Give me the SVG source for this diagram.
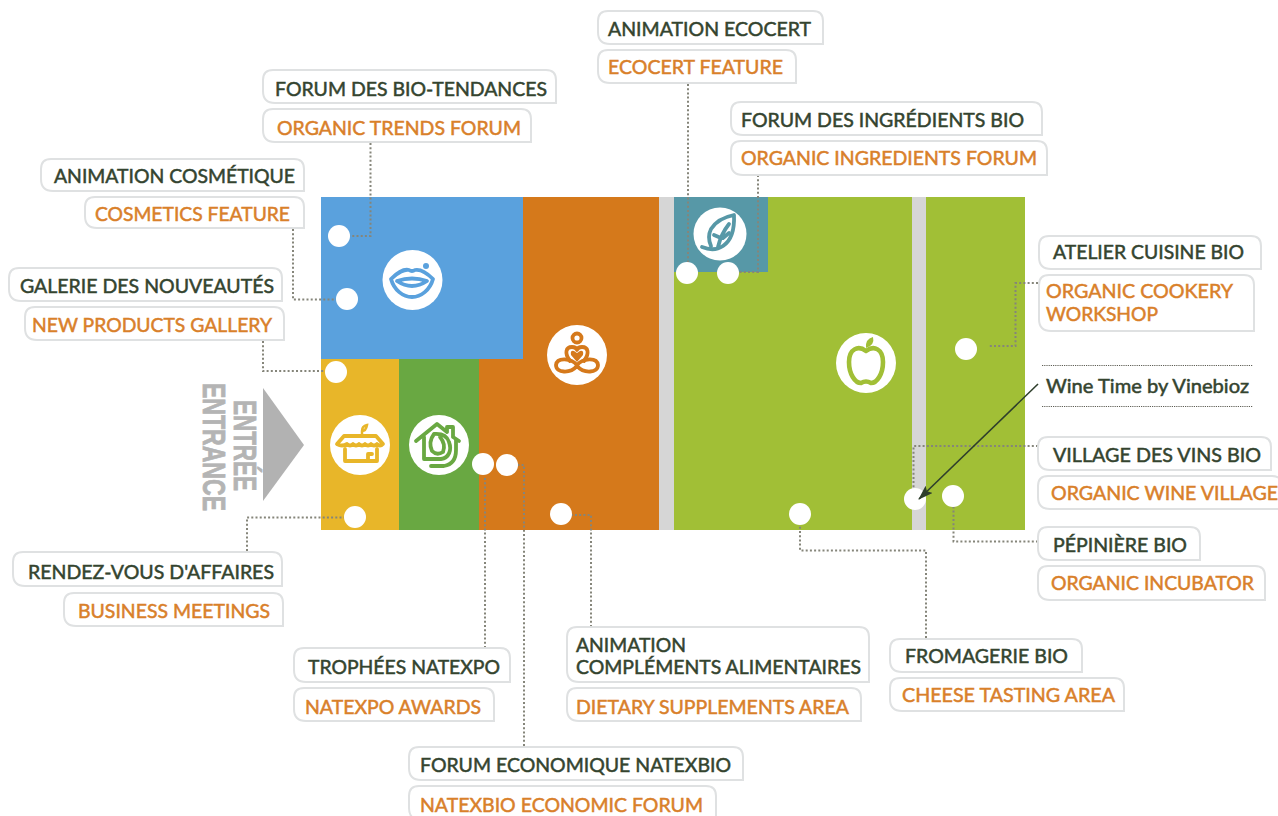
<svg xmlns="http://www.w3.org/2000/svg" width="1278" height="816" viewBox="0 0 1278 816">
<style>
text{font-family:Lato,"Open Sans","Liberation Sans",sans-serif;font-size:19.5px;font-weight:400;stroke-width:.5px}
.d{fill:#34442f;stroke:#34442f;transform:translateY(.5px)}
.o{fill:#d9802a;stroke:#d9802a;transform:translateY(.5px)}
.b{fill:#fff;stroke:#dfe1e2;stroke-width:2}
.c{fill:none;stroke:#85857a;stroke-width:2;stroke-dasharray:2 2.2}
.f{fill:none;stroke:#5f5f56;stroke-width:1.200;stroke-dasharray:1.200 1}
.w{fill:#fff}
.i{fill:none;stroke-width:3.800;stroke-linecap:round;stroke-linejoin:round}
.e{font-family:"Liberation Sans",sans-serif;font-size:31px;font-weight:700;fill:#b4b4b4;stroke:#b4b4b4;stroke-width:.8px}
</style>
<defs>
<marker id="ah" markerWidth="16" markerHeight="12" refX="14" refY="5" orient="auto" markerUnits="userSpaceOnUse"><path d="M0,0L15,5L0,10L3,5Z" fill="#2f3f2c"/></marker>
</defs>
<rect width="1278" height="816" fill="#fff"/>
<g id="plan">
<rect x="674" y="197" width="351" height="333" fill="#a1bf36"/>
<rect x="659" y="197" width="15" height="333" fill="#d6d6d6"/>
<rect x="912" y="197" width="14" height="333" fill="#d6d6d6"/>
<rect x="674" y="197" width="94" height="75" fill="#5798a7"/>
<path d="M523,197H659V530H479V359H523Z" fill="#d5791b"/>
<rect x="321" y="197" width="202" height="162" fill="#5aa1dd"/>
<rect x="321" y="359" width="78" height="171" fill="#e8b629"/>
<rect x="399" y="359" width="80" height="171" fill="#69a842"/>
</g>
<g id="connectors">
<path class="c" d="M370.500,143V236H350"/>
<path class="c" d="M293,229V299.500H336"/>
<path class="c" d="M263,341V371H325"/>
<path class="c" d="M247,551V517.500H344"/>
<path class="c" d="M485,648V476"/>
<path class="c" d="M524,746V465H518"/>
<path class="c" d="M591,627V515H572"/>
<path class="c" d="M688,84V262"/>
<path class="c" d="M758,175V272H739"/>
<path class="c" d="M1038,283H1015.500V346H989"/>
<path class="c" d="M1038,446H913.500V488"/>
<path class="c" d="M1038,541.500H953.500V507"/>
<path class="c" d="M926,638V550.500H800V525"/>
<path class="f" d="M1042,365.500H1253"/>
<path class="f" d="M1042,406.500H1253"/>
</g>
<g id="dots">
<circle class="w" cx="339" cy="236" r="11"/>
<circle class="w" cx="347" cy="299" r="11"/>
<circle class="w" cx="336" cy="372" r="11"/>
<circle class="w" cx="355" cy="517" r="11"/>
<circle class="w" cx="483" cy="464" r="11"/>
<circle class="w" cx="507" cy="465" r="11"/>
<circle class="w" cx="561" cy="514" r="11"/>
<circle class="w" cx="687" cy="273" r="11"/>
<circle class="w" cx="728" cy="273" r="11"/>
<circle class="w" cx="966" cy="349" r="11"/>
<circle class="w" cx="800" cy="514" r="11"/>
<circle class="w" cx="915" cy="499" r="11"/>
<circle class="w" cx="953" cy="496" r="11"/>
</g>
<g id="arrow">
<path d="M1038,384L919,499" fill="none" stroke="#2f3f2c" stroke-width="1.600" marker-end="url(#ah)"/>
</g>
<g id="entrance">
<path d="M263,388L304,445L263,501Z" fill="#b2b2b2"/>
<text class="e" transform="translate(234,400) rotate(90)" textLength="91" lengthAdjust="spacingAndGlyphs">ENTRÉE</text>
<text class="e" transform="translate(203,383) rotate(90)" textLength="128" lengthAdjust="spacingAndGlyphs">ENTRANCE</text>
</g>
<g id="icon-lips">
<circle class="w" cx="412.500" cy="280" r="30"/>
<circle cx="426" cy="266" r="3" fill="#5aa1dd"/>
<path class="i" stroke="#5aa1dd" d="M391,279C398,272 405,269 409,270Q412,272 415,270C420,269 427,273 433,279C430,290 421,297 412,297C403,297 394,290 391,279Z"/>
<path class="i" stroke="#5aa1dd" d="M397,281Q412,276 427,281Q412,291 397,281Z"/>
</g>
<g id="icon-yoga">
<circle class="w" cx="577" cy="355" r="30"/>
<circle class="i" stroke="#d5791b" cx="577" cy="338" r="4.500"/>
<path class="i" stroke="#d5791b" stroke-width="4.500" d="M577,365C571,358 557,357 556,365C556,373 570,374 577,366C584,374 598,373 598,365C597,357 583,358 577,365Z"/>
<path class="i" stroke="#d5791b" d="M570,361C564,353 566,347 572,347Q576,347 577,350Q578,347 582,347C588,347 590,353 584,361"/>
<path d="M577,362L571,355Q570,350 574,351L577,353L580,351Q584,350 583,355Z" fill="#d5791b"/>
</g>
<g id="icon-leaf">
<circle class="w" cx="720" cy="234" r="26.500"/>
<path class="i" stroke="#5798a7" d="M702,247Q714,252 723,246Q735,238 734,215Q718,218 711,229Q707,237 711,246"/>
<path class="i" stroke="#5798a7" d="M718,247Q721,234 729,224M714,235L721,238M729,233L723,238"/>
</g>
<g id="icon-apple">
<circle class="w" cx="866" cy="363" r="30"/>
<path class="i" stroke="#a1bf36" style="stroke-width:4.600" d="M866,351C858,345 849,349 849,362C849,374 855,383 861,383Q866,380 871,383C877,383 883,374 883,362C883,349 874,345 866,351Z"/>
<path d="M866,348Q865,339 873,337Q875,345 866,348Z" fill="#a1bf36"/>
</g>
<g id="icon-box">
<circle class="w" cx="360" cy="445" r="30"/>
<path class="i" stroke="#e8b629" d="M344,436H376L383,444Q380,447 377,444Q374,447 371,444Q368,447 365,444Q362,447 359,444Q356,447 353,444Q350,447 347,444Q342,447 337,444Z"/>
<path class="i" stroke="#e8b629" d="M345,449V461H377V449M368,461V454H372"/>
<path d="M362,436V431Q362,426 367,425Q366,431 362,431" fill="none" stroke="#e8b629" stroke-width="2.500"/>
</g>
<g id="icon-house">
<circle class="w" cx="439" cy="445" r="30"/>
<path class="i" stroke="#69a842" d="M416,441L437,424L447,432V427H453V437L459,441"/>
<path class="i" stroke="#69a842" d="M424,437V459H441C449,458 452,450 449,442Q446,433 434,434Q428,442 432,451Q437,456 443,452Q446,444 440,437"/>
<path class="i" stroke="#69a842" d="M431,466H444Q456,464 456,450V440"/>
</g>
<g id="label-bio-tendances">
<path class="b" d="M273,70H546Q556,70 556,80V103H275Q263,103 263,91V80Q263,70 273,70Z"/>
<text class="d" x="275" y="95" textLength="272" lengthAdjust="spacingAndGlyphs">FORUM DES BIO-TENDANCES</text>
<path class="b" d="M273,109H521Q531,109 531,119V142H275Q263,142 263,130V119Q263,109 273,109Z"/>
<text class="o" x="277" y="134" textLength="244" lengthAdjust="spacingAndGlyphs">ORGANIC TRENDS FORUM</text>
</g>
<g id="label-cosmetique">
<path class="b" d="M51,159H294Q304,159 304,169V191H53Q41,191 41,179V169Q41,159 51,159Z"/>
<text class="d" x="54" y="182" textLength="241" lengthAdjust="spacingAndGlyphs">ANIMATION COSMÉTIQUE</text>
<path class="b" d="M95,197H294Q304,197 304,207V228H97Q85,228 85,216V207Q85,197 95,197Z"/>
<text class="o" x="95" y="220" textLength="195" lengthAdjust="spacingAndGlyphs">COSMETICS FEATURE</text>
</g>
<g id="label-nouveautes">
<path class="b" d="M19,268H272Q282,268 282,278V301H21Q9,301 9,289V278Q9,268 19,268Z"/>
<text class="d" x="20" y="292" textLength="254" lengthAdjust="spacingAndGlyphs">GALERIE DES NOUVEAUTÉS</text>
<path class="b" d="M35,307H274Q284,307 284,317V340H37Q25,340 25,328V317Q25,307 35,307Z"/>
<text class="o" x="32" y="331" textLength="240" lengthAdjust="spacingAndGlyphs">NEW PRODUCTS GALLERY</text>
</g>
<g id="label-ecocert">
<path class="b" d="M608,11H813Q823,11 823,21V44H610Q598,44 598,32V21Q598,11 608,11Z"/>
<text class="d" x="608" y="35" textLength="203" lengthAdjust="spacingAndGlyphs">ANIMATION ECOCERT</text>
<path class="b" d="M608,50H786Q796,50 796,60V83H610Q598,83 598,71V60Q598,50 608,50Z"/>
<text class="o" x="608" y="73" textLength="175" lengthAdjust="spacingAndGlyphs">ECOCERT FEATURE</text>
</g>
<g id="label-ingredients">
<path class="b" d="M741,102H1032Q1042,102 1042,112V135H743Q731,135 731,123V112Q731,102 741,102Z"/>
<text class="d" x="741" y="126" textLength="283" lengthAdjust="spacingAndGlyphs">FORUM DES INGRÉDIENTS BIO</text>
<path class="b" d="M741,141H1037Q1047,141 1047,151V175H743Q731,175 731,163V151Q731,141 741,141Z"/>
<text class="o" x="741" y="164" textLength="296" lengthAdjust="spacingAndGlyphs">ORGANIC INGREDIENTS FORUM</text>
</g>
<g id="label-cuisine">
<path class="b" d="M1049,236H1251Q1261,236 1261,246V269H1051Q1039,269 1039,257V246Q1039,236 1049,236Z"/>
<text class="d" x="1053" y="258" textLength="191" lengthAdjust="spacingAndGlyphs">ATELIER CUISINE BIO</text>
<path class="b" d="M1049,275H1244Q1254,275 1254,285V331H1051Q1039,331 1039,319V285Q1039,275 1049,275Z"/>
<text class="o" x="1046" y="297" textLength="187" lengthAdjust="spacingAndGlyphs">ORGANIC COOKERY</text>
<text class="o" x="1046" y="320" textLength="112" lengthAdjust="spacingAndGlyphs">WORKSHOP</text>
</g>
<g id="label-wine-time">
<text class="d" x="1046" y="392" textLength="203" lengthAdjust="spacingAndGlyphs">Wine Time by Vinebioz</text>
</g>
<g id="label-vins">
<path class="b" d="M1048,437H1261Q1271,437 1271,447V470H1050Q1038,470 1038,458V447Q1038,437 1048,437Z"/>
<text class="d" x="1053" y="461" textLength="208" lengthAdjust="spacingAndGlyphs">VILLAGE DES VINS BIO</text>
<path class="b" d="M1048,476H1272Q1282,476 1282,486V509H1050Q1038,509 1038,497V486Q1038,476 1048,476Z"/>
<text class="o" x="1051" y="499" textLength="227" lengthAdjust="spacingAndGlyphs">ORGANIC WINE VILLAGE</text>
</g>
<g id="label-pepiniere">
<path class="b" d="M1048,527H1190Q1200,527 1200,537V560H1050Q1038,560 1038,548V537Q1038,527 1048,527Z"/>
<text class="d" x="1053" y="551" textLength="134" lengthAdjust="spacingAndGlyphs">PÉPINIÈRE BIO</text>
<path class="b" d="M1048,566H1255Q1265,566 1265,576V600H1050Q1038,600 1038,588V576Q1038,566 1048,566Z"/>
<text class="o" x="1051" y="589" textLength="203" lengthAdjust="spacingAndGlyphs">ORGANIC INCUBATOR</text>
</g>
<g id="label-affaires">
<path class="b" d="M23,552H272Q282,552 282,562V586H25Q13,586 13,574V562Q13,552 23,552Z"/>
<text class="d" x="28" y="578" textLength="246" lengthAdjust="spacingAndGlyphs">RENDEZ-VOUS D'AFFAIRES</text>
<path class="b" d="M74,593H273Q283,593 283,603V626H76Q64,626 64,614V603Q64,593 74,593Z"/>
<text class="o" x="78" y="617" textLength="192" lengthAdjust="spacingAndGlyphs">BUSINESS MEETINGS</text>
</g>
<g id="label-trophees">
<path class="b" d="M304,648H500Q510,648 510,658V682H306Q294,682 294,670V658Q294,648 304,648Z"/>
<text class="d" x="308" y="673" textLength="192" lengthAdjust="spacingAndGlyphs">TROPHÉES NATEXPO</text>
<path class="b" d="M304,688H484Q494,688 494,698V721H306Q294,721 294,709V698Q294,688 304,688Z"/>
<text class="o" x="305" y="713" textLength="176" lengthAdjust="spacingAndGlyphs">NATEXPO AWARDS</text>
</g>
<g id="label-complements">
<path class="b" d="M577,627H859Q869,627 869,637V682H579Q567,682 567,670V637Q567,627 577,627Z"/>
<text class="d" x="576" y="651" textLength="110" lengthAdjust="spacingAndGlyphs">ANIMATION</text>
<text class="d" x="576" y="673" textLength="285" lengthAdjust="spacingAndGlyphs">COMPLÉMENTS ALIMENTAIRES</text>
<path class="b" d="M577,688H851Q861,688 861,698V721H579Q567,721 567,709V698Q567,688 577,688Z"/>
<text class="o" x="576" y="713" textLength="273" lengthAdjust="spacingAndGlyphs">DIETARY SUPPLEMENTS AREA</text>
</g>
<g id="label-economique">
<path class="b" d="M419,747H733Q743,747 743,757V780H421Q409,780 409,768V757Q409,747 419,747Z"/>
<text class="d" x="420" y="771" textLength="311" lengthAdjust="spacingAndGlyphs">FORUM ECONOMIQUE NATEXBIO</text>
<path class="b" d="M419,786H706Q716,786 716,796V820H421Q409,820 409,808V796Q409,786 419,786Z"/>
<text class="o" x="420" y="811" textLength="283" lengthAdjust="spacingAndGlyphs">NATEXBIO ECONOMIC FORUM</text>
</g>
<g id="label-fromagerie">
<path class="b" d="M900,639H1072Q1082,639 1082,649V672H902Q890,672 890,660V649Q890,639 900,639Z"/>
<text class="d" x="905" y="662" textLength="163" lengthAdjust="spacingAndGlyphs">FROMAGERIE BIO</text>
<path class="b" d="M900,678H1114Q1124,678 1124,688V711H902Q890,711 890,699V688Q890,678 900,678Z"/>
<text class="o" x="902" y="701" textLength="213" lengthAdjust="spacingAndGlyphs">CHEESE TASTING AREA</text>
</g>
</svg>
